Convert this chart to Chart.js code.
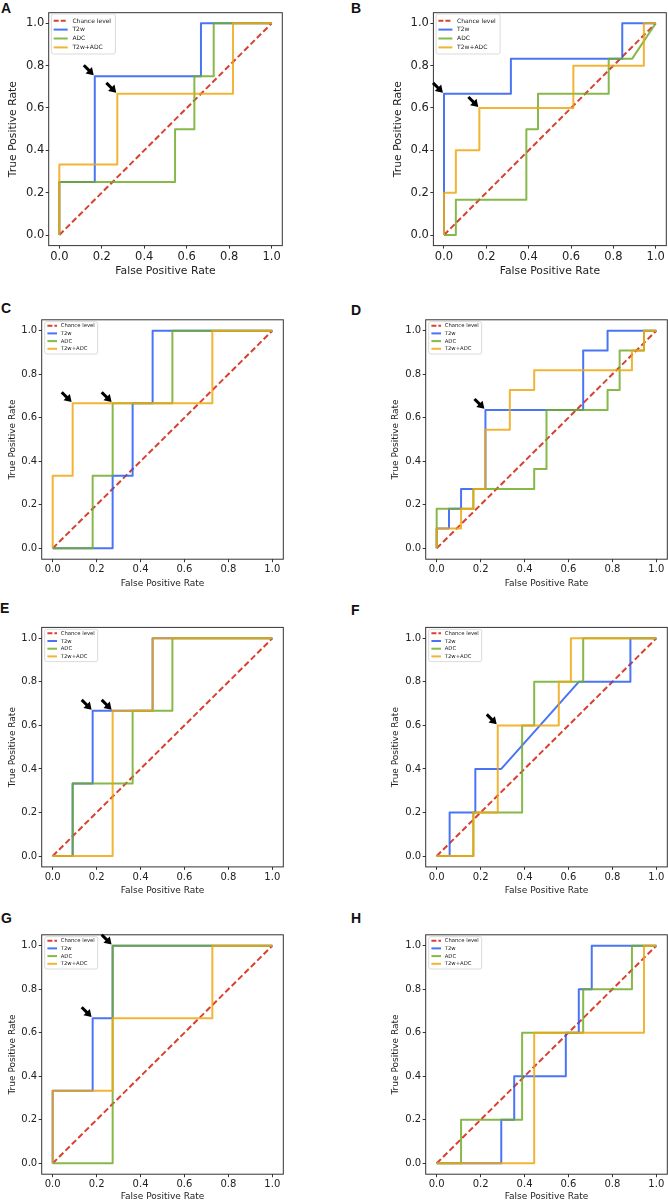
<!DOCTYPE html>
<html>
<head>
<meta charset="utf-8">
<script src="https://cdn.jsdelivr.net/npm/chart.js@4"></script>
<style>
  body { margin: 0; background: #fff; }
  #page { position: relative; width: 668px; height: 1200px; overflow: hidden; background: #fff; }
  .panel { position: absolute; }
  .tag { position: absolute; font: bold 14px "Liberation Sans", Arial, sans-serif; line-height: 14px; color: #111; }
</style>
</head>
<body>
<div id="page">
  <div class="tag" style="left:1px;top:1px">A</div>
  <div class="tag" style="left:351px;top:1px">B</div>
  <div class="tag" style="left:1px;top:301px">C</div>
  <div class="tag" style="left:351px;top:303px">D</div>
  <div class="tag" style="left:0px;top:601px">E</div>
  <div class="tag" style="left:351px;top:603px">F</div>
  <div class="tag" style="left:1px;top:911px">G</div>
  <div class="tag" style="left:351px;top:911px">H</div>
</div>
<script>
// ---- data ----
const SERIES = ["Chance level", "T2w", "ADC", "T2w+ADC"];
const TICKS = [0, 0.2, 0.4, 0.6, 0.8, 1.0];
const CHANCE_FPR = [0, 1];
const CHANCE_TPR = [0, 1];

// A
const A_T2W_FPR = [0, 0, 0.167, 0.167, 0.667, 0.667, 1];
const A_T2W_TPR = [0, 0.25, 0.25, 0.75, 0.75, 1, 1];
const A_ADC_FPR = [0, 0, 0.545, 0.545, 0.636, 0.636, 0.727, 0.727, 1];
const A_ADC_TPR = [0, 0.25, 0.25, 0.5, 0.5, 0.75, 0.75, 1, 1];
const A_BOTH_FPR = [0, 0, 0.273, 0.273, 0.818, 0.818, 1];
const A_BOTH_TPR = [0, 0.333, 0.333, 0.667, 0.667, 1, 1];
const A_ARROWS = [[0.167, 0.75], [0.273, 0.667]];

// B
const B_T2W_FPR = [0, 0, 0.316, 0.316, 0.842, 0.842, 1];
const B_T2W_TPR = [0, 0.667, 0.667, 0.833, 0.833, 1, 1];
const B_ADC_FPR = [0, 0.056, 0.056, 0.389, 0.389, 0.444, 0.444, 0.778, 0.778, 0.889, 1];
const B_ADC_TPR = [0, 0, 0.167, 0.167, 0.5, 0.5, 0.667, 0.667, 0.833, 0.833, 1];
const B_BOTH_FPR = [0, 0, 0.056, 0.056, 0.167, 0.167, 0.611, 0.611, 0.944, 0.944, 1];
const B_BOTH_TPR = [0, 0.2, 0.2, 0.4, 0.4, 0.6, 0.6, 0.8, 0.8, 1, 1];
const B_ARROWS = [[0, 0.667], [0.167, 0.6]];

// C
const C_T2W_FPR = [0, 0.273, 0.273, 0.364, 0.364, 0.455, 0.455, 1];
const C_T2W_TPR = [0, 0, 0.333, 0.333, 0.667, 0.667, 1, 1];
const C_ADC_FPR = [0, 0.182, 0.182, 0.273, 0.273, 0.545, 0.545, 1];
const C_ADC_TPR = [0, 0, 0.333, 0.333, 0.667, 0.667, 1, 1];
const C_BOTH_FPR = [0, 0, 0.091, 0.091, 0.727, 0.727, 1];
const C_BOTH_TPR = [0, 0.333, 0.333, 0.667, 0.667, 1, 1];
const C_ARROWS = [[0.091, 0.667], [0.273, 0.667]];

// D
const D_T2W_FPR = [0, 0, 0.056, 0.056, 0.111, 0.111, 0.222, 0.222, 0.667, 0.667, 0.778, 0.778, 1];
const D_T2W_TPR = [0, 0.091, 0.091, 0.182, 0.182, 0.273, 0.273, 0.636, 0.636, 0.909, 0.909, 1, 1];
const D_ADC_FPR = [0, 0, 0.167, 0.167, 0.444, 0.444, 0.5, 0.5, 0.778, 0.778, 0.833, 0.833, 0.944, 0.944, 1];
const D_ADC_TPR = [0, 0.182, 0.182, 0.273, 0.273, 0.364, 0.364, 0.636, 0.636, 0.727, 0.727, 0.909, 0.909, 1, 1];
const D_BOTH_FPR = [0, 0, 0.111, 0.111, 0.167, 0.167, 0.222, 0.222, 0.333, 0.333, 0.444, 0.444, 0.889, 0.889, 0.944, 0.944, 1];
const D_BOTH_TPR = [0, 0.091, 0.091, 0.182, 0.182, 0.273, 0.273, 0.545, 0.545, 0.727, 0.727, 0.818, 0.818, 0.909, 0.909, 1, 1];
const D_ARROWS = [[0.222, 0.636]];

// E
const E_T2W_FPR = [0, 0.091, 0.091, 0.182, 0.182, 0.455, 0.455, 1];
const E_T2W_TPR = [0, 0, 0.333, 0.333, 0.667, 0.667, 1, 1];
const E_ADC_FPR = [0, 0.091, 0.091, 0.364, 0.364, 0.545, 0.545, 1];
const E_ADC_TPR = [0, 0, 0.333, 0.333, 0.667, 0.667, 1, 1];
const E_BOTH_FPR = [0, 0.273, 0.273, 0.455, 0.455, 1];
const E_BOTH_TPR = [0, 0, 0.667, 0.667, 1, 1];
const E_ARROWS = [[0.182, 0.667], [0.273, 0.667]];

// F
const F_T2W_FPR = [0, 0.059, 0.059, 0.176, 0.176, 0.294, 0.647, 0.882, 0.882, 1];
const F_T2W_TPR = [0, 0, 0.2, 0.2, 0.4, 0.4, 0.8, 0.8, 1, 1];
const F_ADC_FPR = [0, 0.167, 0.167, 0.389, 0.389, 0.444, 0.444, 0.667, 0.667, 1];
const F_ADC_TPR = [0, 0, 0.2, 0.2, 0.6, 0.6, 0.8, 0.8, 1, 1];
const F_BOTH_FPR = [0, 0.167, 0.167, 0.278, 0.278, 0.556, 0.556, 0.611, 0.611, 1];
const F_BOTH_TPR = [0, 0, 0.2, 0.2, 0.6, 0.6, 0.8, 0.8, 1, 1];
const F_ARROWS = [[0.278, 0.6]];

// G
const G_T2W_FPR = [0, 0, 0.182, 0.182, 0.273, 0.273, 1];
const G_T2W_TPR = [0, 0.333, 0.333, 0.667, 0.667, 1, 1];
const G_ADC_FPR = [0, 0.273, 0.273, 1];
const G_ADC_TPR = [0, 0, 1, 1];
const G_BOTH_FPR = [0, 0, 0.273, 0.273, 0.727, 0.727, 1];
const G_BOTH_TPR = [0, 0.333, 0.333, 0.667, 0.667, 1, 1];
const G_ARROWS = [[0.182, 0.667], [0.273, 1]];

// H
const H_T2W_FPR = [0, 0.294, 0.294, 0.353, 0.353, 0.588, 0.588, 0.647, 0.647, 0.706, 0.706, 1];
const H_T2W_TPR = [0, 0, 0.2, 0.2, 0.4, 0.4, 0.6, 0.6, 0.8, 0.8, 1, 1];
const H_ADC_FPR = [0, 0.111, 0.111, 0.389, 0.389, 0.667, 0.667, 0.889, 0.889, 1];
const H_ADC_TPR = [0, 0, 0.2, 0.2, 0.6, 0.6, 0.8, 0.8, 1, 1];
const H_BOTH_FPR = [0, 0.444, 0.444, 0.944, 0.944, 1];
const H_BOTH_TPR = [0, 0, 0.6, 0.6, 1, 1];
const H_ARROWS = [];

// ---- styling ----
const FONT = "DejaVu Sans";
const COLORS = ["#d9402e", "rgba(42,92,244,0.85)", "rgba(113,172,42,0.85)", "rgba(238,167,18,0.85)"];
Chart.defaults.font.family = FONT;

// frame = [left, top, right, bottom] of the plot box on the page
const PANELS = [
  { frame: [48.7, 12.7, 282.3, 245.6], big: true, yw: 43, xt: 25.7,
    fpr: [A_T2W_FPR, A_ADC_FPR, A_BOTH_FPR], tpr: [A_T2W_TPR, A_ADC_TPR, A_BOTH_TPR], arrows: A_ARROWS },
  { frame: [433.4, 12.7, 666.3, 245.6], big: true, yw: 42.7, xt: 25.7,
    fpr: [B_T2W_FPR, B_ADC_FPR, B_BOTH_FPR], tpr: [B_T2W_TPR, B_ADC_TPR, B_BOTH_TPR], arrows: B_ARROWS },
  { frame: [41.7, 319.8, 283.3, 559.2], big: false, yw: 35.8, xt: 23.7,
    fpr: [C_T2W_FPR, C_ADC_FPR, C_BOTH_FPR], tpr: [C_T2W_TPR, C_ADC_TPR, C_BOTH_TPR], arrows: C_ARROWS },
  { frame: [425.7, 319.8, 667.3, 559.2], big: false, yw: 36.8, xt: 23.7,
    fpr: [D_T2W_FPR, D_ADC_FPR, D_BOTH_FPR], tpr: [D_T2W_TPR, D_ADC_TPR, D_BOTH_TPR], arrows: D_ARROWS },
  { frame: [41.7, 627.4, 283.3, 866.9], big: false, yw: 35.8, xt: 23.7,
    fpr: [E_T2W_FPR, E_ADC_FPR, E_BOTH_FPR], tpr: [E_T2W_TPR, E_ADC_TPR, E_BOTH_TPR], arrows: E_ARROWS },
  { frame: [425.7, 627.4, 667.3, 866.9], big: false, yw: 36.8, xt: 23.7,
    fpr: [F_T2W_FPR, F_ADC_FPR, F_BOTH_FPR], tpr: [F_T2W_TPR, F_ADC_TPR, F_BOTH_TPR], arrows: F_ARROWS },
  { frame: [41.7, 934.8, 283.3, 1174.2], big: false, yw: 35.8, xt: 21.8,
    fpr: [G_T2W_FPR, G_ADC_FPR, G_BOTH_FPR], tpr: [G_T2W_TPR, G_ADC_TPR, G_BOTH_TPR], arrows: G_ARROWS },
  { frame: [425.7, 934.8, 667.3, 1174.2], big: false, yw: 36.8, xt: 21.8,
    fpr: [H_T2W_FPR, H_ADC_FPR, H_BOTH_FPR], tpr: [H_T2W_TPR, H_ADC_TPR, H_BOTH_TPR], arrows: H_ARROWS },
];

function points(xs, ys) {
  return xs.map((v, i) => ({ x: v, y: ys[i] }));
}

// frame, arrows and matplotlib-like legend
const decor = {
  id: "decor",
  afterDraw(chart, args, opts) {
    const { ctx, chartArea: a, scales } = chart;
    ctx.save();
    ctx.strokeStyle = "#333";
    ctx.lineWidth = 1;
    ctx.strokeRect(a.left, a.top, a.right - a.left, a.bottom - a.top);

    // arrows pointing at the chosen operating points
    const d = Math.SQRT1_2;
    opts.arrows.forEach(function (p) {
      const tx = scales.x.getPixelForValue(p[0]) - 1.5 * d;
      const ty = scales.y.getPixelForValue(p[1]) - 1.5 * d;
      const bx = tx - 7 * d, by = ty - 7 * d;
      ctx.strokeStyle = "#000";
      ctx.fillStyle = "#000";
      ctx.lineWidth = 3;
      ctx.lineCap = "butt";
      ctx.beginPath();
      ctx.moveTo(tx - 14 * d, ty - 14 * d);
      ctx.lineTo(bx + d, by + d);
      ctx.stroke();
      ctx.beginPath();
      ctx.moveTo(tx, ty);
      ctx.lineTo(bx + 4.5 * d, by - 4.5 * d);
      ctx.lineTo(bx - 4.5 * d, by + 4.5 * d);
      ctx.closePath();
      ctx.fill();
    });

    // legend box
    const L = opts.big
      ? { x: 2.7, y: 1.3, w: 64, h: 40, r0: 8, rh: 8.9, s0: 5, s1: 19, tx: 23.7, fs: 6 }
      : { x: 3, y: 1.9, w: 53, h: 32.3, r0: 5.9, rh: 7.7, s0: 5.7, s1: 15.3, tx: 19, fs: 5.3 };
    const lx = a.left + L.x, ly = a.top + L.y;
    ctx.fillStyle = "rgba(255,255,255,0.8)";
    ctx.strokeStyle = "#d0d0d0";
    ctx.lineWidth = 0.8;
    ctx.beginPath();
    ctx.roundRect(lx, ly, L.w, L.h, 2);
    ctx.fill();
    ctx.stroke();
    ctx.font = L.fs + "px " + FONT;
    ctx.textBaseline = "middle";
    SERIES.forEach(function (name, i) {
      const ry = a.top + L.r0 + i * L.rh;
      ctx.strokeStyle = COLORS[i];
      ctx.lineWidth = 2;
      ctx.setLineDash(i === 0 ? [5, 2] : []);
      ctx.beginPath();
      ctx.moveTo(a.left + L.s0, ry);
      ctx.lineTo(a.left + L.s1, ry);
      ctx.stroke();
      ctx.setLineDash([]);
      ctx.fillStyle = "#222";
      ctx.fillText(name, a.left + L.tx, ry + 0.3);
    });
    ctx.restore();
  },
};

function axis(title, big, xh, yw) {
  return {
    type: "linear",
    min: -0.05,
    max: 1.05,
    afterBuildTicks: function (s) { s.ticks = TICKS.map(v => ({ value: v })); },
    afterFit: function (s) {
      if (s.isHorizontal()) s.height = xh; else s.width = yw;
    },
    grid: { display: true, drawOnChartArea: false, drawTicks: true, tickLength: 3, color: "#333", tickWidth: 1 },
    border: { display: false },
    ticks: {
      padding: 1.5,
      color: "#222",
      maxRotation: 0,
      autoSkip: false,
      font: { family: FONT, size: big ? 11.5 : 10 },
      callback: v => Number(v).toFixed(1),
    },
    title: {
      display: true,
      text: title,
      color: "#222",
      font: { family: FONT, size: big ? 10.8 : 9 },
      padding: { top: 2, bottom: 4 },
    },
  };
}

const page = document.getElementById("page");
PANELS.forEach(function (p) {
  const [fl, ft, fr, fb] = p.frame;
  const titleLh = (p.big ? 10.8 : 9) * 1.2;
  const cl = Math.floor(fl - p.yw);
  const ct = Math.floor(ft - 8);
  const yw = fl - cl;
  const padTop = ft - ct;
  const w = Math.min(668 - cl, Math.ceil(fr - cl + 10));
  const padR = w - (fr - cl);
  const h = Math.ceil(fb - ct + p.xt + 4 + titleLh / 2);
  const xh = h - (fb - ct);

  const box = document.createElement("div");
  box.className = "panel";
  box.style.left = cl + "px";
  box.style.top = ct + "px";
  box.style.width = w + "px";
  box.style.height = h + "px";
  const cv = document.createElement("canvas");
  box.appendChild(cv);
  page.appendChild(box);

  const datasets = [{
    label: SERIES[0],
    data: points(CHANCE_FPR, CHANCE_TPR),
    borderColor: COLORS[0],
    borderWidth: 2,
    borderDash: [6, 3],
    order: 3,
  }];
  for (let i = 0; i < 3; i++) {
    datasets.push({
      label: SERIES[i + 1],
      data: points(p.fpr[i], p.tpr[i]),
      borderColor: COLORS[i + 1],
      borderWidth: 2,
      borderJoinStyle: "round",
      order: 2 - i,
    });
  }

  new Chart(cv, {
    type: "line",
    data: { datasets },
    options: {
      responsive: true,
      maintainAspectRatio: false,
      animation: false,
      events: [],
      elements: { point: { radius: 0 }, line: { tension: 0, fill: false } },
      layout: { padding: { top: padTop, right: padR, left: 0, bottom: 0 } },
      plugins: {
        legend: { display: false },
        tooltip: { enabled: false },
        decor: { arrows: p.arrows, big: p.big },
      },
      scales: {
        x: axis("False Positive Rate", p.big, xh, yw),
        y: axis("True Positive Rate", p.big, xh, yw),
      },
    },
    plugins: [decor],
  });
});
</script>
</body>
</html>
